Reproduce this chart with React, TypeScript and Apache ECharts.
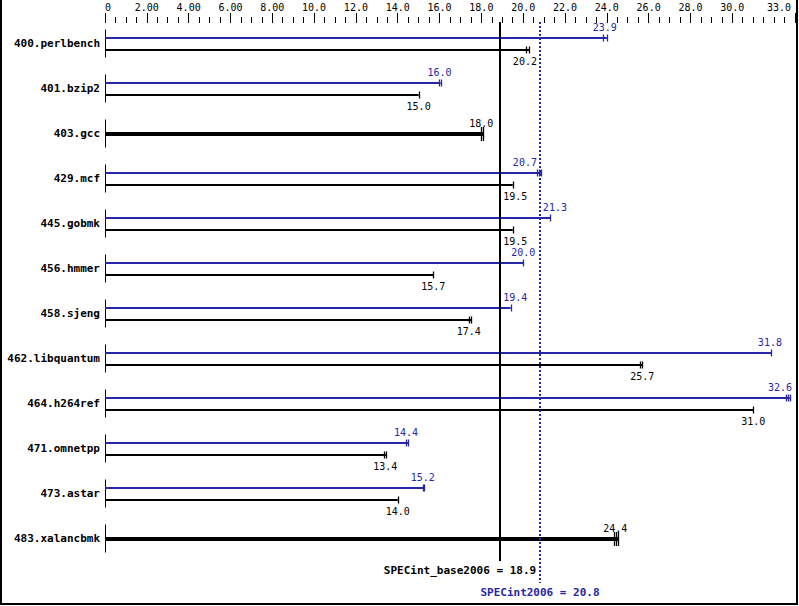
import React, { useEffect, useRef } from "react";
import * as echarts from "echarts";

const categories = [
  "400.perlbench", "401.bzip2", "403.gcc", "429.mcf", "445.gobmk", "456.hmmer",
  "458.sjeng", "462.libquantum", "464.h264ref", "471.omnetpp", "473.astar", "483.xalancbmk",
];
// peak (blue) and base (black) ratios; null peak = only one (base) bar drawn
const peakValues: (number | null)[] = [23.9, 16.0, null, 20.7, 21.3, 20.0, 19.4, 31.8, 32.6, 14.4, 15.2, null];
const baseValues: number[] = [20.2, 15.0, 18.0, 19.5, 19.5, 15.7, 17.4, 25.7, 31.0, 13.4, 14.0, 24.4];
// individual run results (tick marks at bar ends)
const peakRuns: (number[] | null)[] = [
  [23.8, 24.0], [15.95, 16.05], null, [20.65, 20.75, 20.85], [21.3], [20.0],
  [19.4], [31.85], [32.55, 32.65, 32.75], [14.4, 14.5], [15.2, 15.25], null,
];
const baseRuns: number[][] = [
  [20.15, 20.3], [15.0], [18.0, 18.1], [19.5], [19.5], [15.7],
  [17.4, 17.5], [25.6, 25.7], [31.0], [13.35, 13.45], [14.0], [24.35, 24.45, 24.55],
];
const refNames = ["SPECint_base2006", "SPECint2006"];
const refValues = [18.9, 20.8];
const AXIS_MAX = 33;
const majorTicks = [0, 2, 4, 6, 8, 10, 12, 14, 16, 18, 20, 22, 24, 26, 28, 30, 33];
const labelTicks = majorTicks.filter((v) => v !== AXIS_MAX);
const minorTicks: number[] = [];
for (let v = 0.5; v < AXIS_MAX; v += 0.5) {
  if (!majorTicks.includes(v)) minorTicks.push(v);
}

const BLUE = "#2626aa";
const BLACK = "#000000";
const MONO = '"DejaVu Sans Mono", "Liberation Mono", monospace';

function fmtTick(v: number) {
  if (v === 0) return "0";
  return v < 10 ? v.toFixed(2) : v.toFixed(1);
}

export default function App() {
  const ref = useRef<HTMLDivElement>(null);
  useEffect(() => {
    if (!ref.current) return;
    const chart = echarts.init(ref.current, null, { renderer: "svg" });

    const avoid = (api: any, c: number, half: number, value: number) => {
      let cx = c;
      refValues.forEach((rv) => {
        const L = api.coord([rv, 0])[0];
        if (Math.abs(cx - L) < half + 3) {
          cx = value < rv ? L - 3 - half : L + 3 + half;
        }
      });
      const right = api.coord([AXIS_MAX, 0])[0] - 3;
      if (cx + half > right) cx = right - half;
      return cx;
    };

    const barRender = (params: any, api: any) => {
      const i = params.dataIndex;
      const p0 = api.coord([0, i]);
      const x0 = p0[0];
      const yc = p0[1];
      const children: any[] = [];
      children.push({
        type: "line",
        shape: { x1: x0 + 0.5, y1: yc - 14, x2: x0 + 0.5, y2: yc + 14 },
        style: { stroke: BLACK, lineWidth: 1 },
      });
      const drawBar = (value: number, runs: number[], y: number, color: string, lw: number, th: number, labelDy: number) => {
        const xe = api.coord([Math.max(...runs), i])[0];
        children.push({
          type: "line",
          shape: { x1: x0, y1: y, x2: xe, y2: y },
          style: { stroke: color, lineWidth: lw },
        });
        runs.forEach((r) => {
          const xr = Math.round(api.coord([r, i])[0]) + 0.5;
          children.push({
            type: "line",
            shape: { x1: xr, y1: y - th, x2: xr, y2: y + th },
            style: { stroke: color, lineWidth: 1.3 },
          });
        });
        const txt = value.toFixed(1);
        const half = txt.length * 3;
        const cx = avoid(api, api.coord([value, i])[0], half, value);
        children.push({
          type: "text",
          style: {
            text: txt, x: cx, y: y + labelDy, fill: color,
            fontFamily: MONO, fontSize: 10, align: "center", verticalAlign: "middle",
          },
        });
      };
      const pv = peakValues[i];
      const pr = peakRuns[i];
      if (pv == null || pr == null) {
        drawBar(baseValues[i], baseRuns[i], Math.round(yc), BLACK, 4, 7, -11);
      } else {
        drawBar(pv, pr, Math.round(yc) - 6, BLUE, 2, 3.5, -11);
        drawBar(baseValues[i], baseRuns[i], Math.round(yc) + 6, BLACK, 2, 3.5, 11);
      }
      return { type: "group", children };
    };

    const refRender = (params: any, api: any) => {
      const i = params.dataIndex;
      const cs = params.coordSys;
      const x = Math.round(api.coord([refValues[i], 0])[0]);
      const y1 = cs.y + 1;
      const y2 = cs.y + cs.height + (i === 0 ? 0 : 22);
      const color = i === 0 ? BLACK : BLUE;
      const txt = `${refNames[i]} = ${refValues[i].toFixed(1)}`;
      const half = (txt.length * 0.6 * 11) / 2;
      let cx = x;
      // the upper (base) label keeps clear of the longer peak line
      if (i === 0) {
        const L = api.coord([refValues[1], 0])[0];
        if (Math.abs(cx - L) < half + 3) cx = L - 4 - half;
      }
      return {
        type: "group",
        children: [
          {
            type: "line",
            shape: { x1: x, y1, x2: x, y2 },
            style: { stroke: color, lineWidth: 2, lineDash: i === 0 ? null : [2, 2] },
          },
          {
            type: "text",
            style: {
              text: txt, x: cx, y: y2 + 9, fill: color, fontFamily: MONO,
              fontSize: 11, fontWeight: "bold", align: "center", verticalAlign: "middle",
            },
          },
        ],
      };
    };

    const hiddenAxis = {
      type: "value", position: "top", min: 0, max: AXIS_MAX, offset: -2,
      axisLine: { show: false }, splitLine: { show: false },
    };

    chart.setOption({
      animation: false,
      backgroundColor: "#ffffff",
      grid: { left: 105, top: 21, width: 690, height: 540 },
      xAxis: [
        {
          ...hiddenAxis,
          axisTick: { show: true, length: 10, customValues: majorTicks, lineStyle: { color: BLACK, width: 1 } },
          axisLabel: {
            customValues: labelTicks, formatter: (v: number) => fmtTick(v),
            fontFamily: MONO, fontSize: 10, color: BLACK, margin: 11,
            alignMinLabel: "left",
          },
        },
        {
          ...hiddenAxis,
          axisTick: { show: true, length: 6, customValues: minorTicks, lineStyle: { color: BLACK, width: 1 } },
          axisLabel: { show: false },
        },
        {
          ...hiddenAxis,
          axisTick: { show: false },
          axisLabel: {
            customValues: [AXIS_MAX], formatter: (v: number) => v.toFixed(1),
            fontFamily: MONO, fontSize: 10, color: BLACK, margin: 11, align: "right",
            padding: [0, 4, 0, 0],
          },
        },
      ],
      yAxis: {
        type: "category", data: categories, inverse: true,
        axisLine: { show: false }, axisTick: { show: false }, splitLine: { show: false },
        axisLabel: { fontFamily: MONO, fontSize: 11, fontWeight: "bold", color: BLACK, margin: 5 },
      },
      graphic: [
        {
          type: "rect", shape: { x: 1, y: -5, width: 796, height: 609 },
          style: { fill: "none", stroke: BLACK, lineWidth: 2 }, silent: true,
        },
      ],
      series: [
        {
          type: "custom", name: "bars", xAxisIndex: 0, yAxisIndex: 0, clip: false, z: 2,
          encode: { x: 0, y: 1 },
          data: categories.map((_, i) => [Math.max(...baseRuns[i], ...(peakRuns[i] || [0])), i]),
          renderItem: barRender,
        },
        {
          type: "custom", name: "refs", xAxisIndex: 0, yAxisIndex: 0, clip: false, z: 3,
          encode: { x: 0, y: 1 },
          data: refValues.map((v) => [v, 0]),
          renderItem: refRender,
        },
      ],
    });
    return () => chart.dispose();
  }, []);
  return (
    <div
      ref={ref}
      style={{ position: "fixed", left: 0, top: 0, width: 799, height: 606, background: "#fff" }}
    />
  );
}
